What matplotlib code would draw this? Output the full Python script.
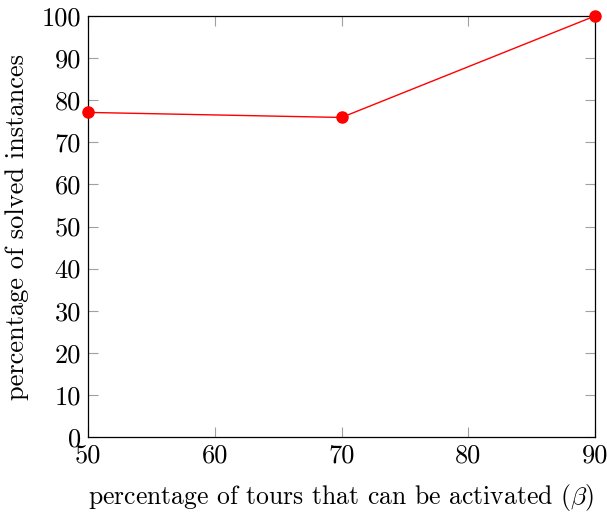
"""
 - percentage of solved instances vs beta
"""

import matplotlib
matplotlib.use('Agg')
import matplotlib.pyplot as plt

# Computer Modern look
plt.rcParams['font.family'] = 'cmr10'
plt.rcParams['mathtext.fontset'] = 'cm'
plt.rcParams['axes.formatter.use_mathtext'] = True

# data
beta = [50, 70, 90]
solved = [77.1, 75.9, 100]
xticks = [50, 60, 70, 80, 90]
yticks = list(range(0, 101, 10))

fig = plt.figure(figsize=(6.07, 5.14), dpi=100)
ax = fig.add_axes([88 / 607, 1 - 437 / 514, (595 - 88) / 607, (437 - 16) / 514])

ax.plot(beta, solved, color='red', linewidth=1.0, marker='o', markersize=8,
        clip_on=False, zorder=5)

ax.set_xlim(50, 90)
ax.set_ylim(0, 100)
ax.set_xticks(xticks)
ax.set_yticks(yticks)
ax.set_xticklabels([str(t) for t in xticks])
ax.set_yticklabels([str(t) for t in yticks])

ax.tick_params(direction='in', length=7, width=0.8, color='#a0a0a0',
               top=True, right=True, labelsize=19, pad=5)
for s in ax.spines.values():
    s.set_linewidth(0.9)

ax.set_xlabel(r'percentage of tours that can be activated ($\beta$)', fontsize=18.5, labelpad=10)
ax.set_ylabel('percentage of solved instances', fontsize=19, labelpad=9)

plt.savefig('out.png', dpi=100)
